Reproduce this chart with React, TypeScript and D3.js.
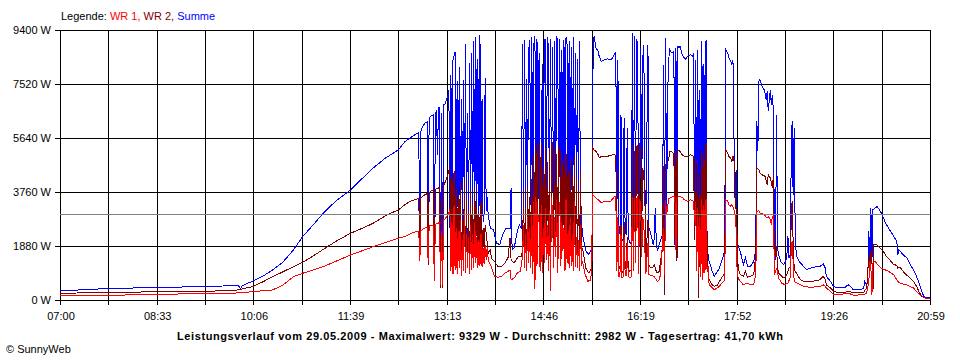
import React from 'react';
import * as d3 from 'd3';

type Sample = [number, number]; // [minutes after 07:00, watts]

const timeLabels = ['07:00', '08:33', '10:06', '11:39', '13:13', '14:46', '16:19', '17:52', '19:26', '20:59'];
const yTickValues = [0, 1880, 3760, 5640, 7520, 9400];
const dayMinutes = 839; // 07:00 -> 20:59
const gridColumns = 18;
const averageW = 2982;
const title = 'Leistungsverlauf vom 29.05.2009 - Maximalwert: 9329 W - Durchschnitt: 2982 W - Tagesertrag: 41,70 kWh';

const legendItems = [
  { label: 'WR 1, ', color: '#ff0000' },
  { label: 'WR 2, ', color: '#800000' },
  { label: 'Summe', color: '#0000ff' },
];

const summePoints: Sample[] = [
  [0, 325], [19, 350], [46, 400], [94, 435], [142, 470], [172, 505], [174, 385], [176, 505], [186, 660], [196, 835],
  [205, 1045], [215, 1320], [225, 1740], [234, 2205], [244, 2610], [254, 3030], [266, 3445], [280, 3830], [290, 4180],
  [302, 4595], [314, 4945], [326, 5220], [333, 5525], [340, 5700], [345, 5815], [346, 5830], [347, 1580], [348, 5880],
  [349, 5990], [352, 6160], [354, 6200], [355, 2055], [356, 6260], [357, 6395], [360, 6450], [361, 1460], [362, 6480],
  [363, 6600], [364, 5050], [365, 6685], [366, 6700], [367, 420], [368, 6500], [369, 420], [370, 6790], [371, 6790],
  [374, 7100], [375, 7300], [376, 2505], [377, 7845], [378, 2260], [379, 8360], [380, 8500], [381, 8640], [382, 2500],
  [383, 7620], [384, 2300], [385, 8100], [386, 2250], [387, 7000], [388, 2400], [389, 7660], [390, 2200], [391, 8900],
  [392, 2300], [393, 6500], [394, 2200], [395, 8250], [396, 2400], [397, 8600], [398, 2500], [399, 9000], [400, 2600],
  [401, 9160], [402, 3200], [403, 8400], [404, 2700], [405, 9225], [406, 2800], [407, 7000], [408, 2700], [409, 3000],
  [410, 7730], [411, 3100], [412, 3595], [413, 2925], [415, 2505], [418, 2440], [421, 1985], [424, 1925], [427, 2270],
  [430, 2505], [434, 2505], [435, 3900], [436, 1750], [438, 1810], [441, 2400], [443, 2620], [445, 2470],
  [446, 8900], [447, 3100], [448, 9050], [449, 2600], [450, 7700], [451, 3900], [452, 8700], [453, 9050], [454, 3300],
  [455, 9150], [456, 2900], [457, 8900], [458, 9200], [459, 2700], [460, 9100], [461, 3500], [462, 8600], [463, 2500],
  [464, 2300], [465, 8200], [466, 2500], [467, 9000], [468, 9100], [469, 3000], [470, 9150], [471, 8800], [472, 2800],
  [473, 9100], [474, 3200], [475, 8800], [476, 2200], [477, 9000], [478, 3600], [479, 9200], [480, 8900], [481, 2900],
  [482, 9100], [483, 3300], [484, 8700], [485, 2400], [486, 9050], [487, 3800], [488, 9150], [489, 8900], [490, 2700],
  [491, 9000], [492, 3100], [493, 8800], [494, 2300], [495, 9150], [496, 2800], [497, 8600], [498, 3500], [499, 8400],
  [500, 2600], [501, 9000], [502, 2500], [503, 2700], [504, 2270], [507, 1710], [510, 1580], [513, 1810], [514, 8000],
  [515, 9175], [517, 8770], [519, 8655], [520, 8480], [522, 8310], [525, 8365], [528, 8400], [531, 8365], [533, 8425],
  [535, 8600], [536, 8630],
  [537, 2505], [538, 8365], [539, 2400], [540, 2300], [541, 6450], [542, 2100], [543, 2055], [544, 6335], [545, 2400],
  [546, 2270], [547, 5990], [548, 2200], [549, 2055], [551, 1915], [552, 9295], [553, 2505], [554, 9190], [555, 2800],
  [556, 9050], [557, 9000], [558, 2100], [559, 1855], [560, 8770], [561, 3500], [562, 8425], [563, 8890], [564, 4000],
  [565, 2960], [567, 8890], [568, 2505], [570, 2270], [572, 1925], [573, 2100], [574, 3200], [575, 2090], [576, 1705],
  [579, 2055], [581, 2270], [582, 8190], [583, 2440], [584, 9120], [585, 2960], [586, 7150], [587, 8365], [588, 8715],
  [590, 8600], [592, 8660], [593, 1925], [594, 8770], [595, 1740], [596, 8830], [597, 8770], [598, 8830], [599, 8670],
  [600, 8540], [602, 8425], [603, 8365], [605, 8485], [608, 8540], [610, 8485], [611, 8600], [612, 2750], [613, 8365],
  [614, 2750], [615, 8700], [616, 2400], [617, 7300], [618, 2300], [619, 9000], [620, 2600], [621, 8200], [622, 2270],
  [623, 9050], [624, 2100], [625, 1577], [626, 1347], [629, 1000], [631, 825], [632, 880], [636, 1115], [639, 1460],
  [641, 1695], [642, 8715], [644, 8600], [645, 8425], [647, 8310], [648, 8190], [649, 8365], [650, 5640], [651, 3480],
  [652, 4525], [653, 1985], [656, 1695], [658, 1400], [659, 1230], [661, 1460], [663, 1175], [666, 1175], [669, 1345],
  [670, 1460], [671, 2045], [672, 6220], [673, 5185], [674, 7615], [675, 7670], [677, 7440], [679, 7320], [680, 7205],
  [681, 6975], [682, 7265], [683, 6570], [685, 7320], [686, 6800], [687, 7150], [688, 6580], [689, 1810], [690, 1395],
  [691, 6450], [692, 1810], [693, 1575], [695, 1345], [698, 1230], [700, 1360], [701, 1565], [702, 2215], [703, 1460],
  [704, 1565], [705, 4360], [706, 6220], [707, 3655], [708, 5990], [709, 2400], [710, 1575], [711, 1460], [714, 1290],
  [717, 1175], [720, 1055], [724, 1115], [730, 1165], [733, 1175], [736, 1255], [738, 1115], [739, 825], [743, 650],
  [746, 475], [749, 420], [757, 440], [760, 530], [762, 485], [765, 360], [772, 360], [775, 420], [776, 650], [778, 520],
  [779, 765], [780, 2390], [781, 1360], [782, 3200], [783, 1360], [784, 3145], [786, 3200], [788, 3260], [791, 3090],
  [793, 2970], [796, 2680], [799, 2505], [801, 2390], [805, 2160], [807, 2045], [808, 1575], [809, 1750], [813, 1575],
  [817, 1460], [820, 1230], [823, 1055], [826, 825], [829, 530], [831, 300], [833, 130], [834, 70], [839, 70],
];

const wr2Points: Sample[] = [
  [0, 235], [19, 245], [46, 255], [94, 290], [142, 310], [167, 320], [186, 465], [196, 640], [205, 810], [215, 980],
  [225, 1160], [234, 1310], [244, 1530], [254, 1765], [266, 2040], [280, 2320], [291, 2490], [302, 2670], [316, 2980],
  [326, 3130], [333, 3330], [339, 3455], [345, 3525], [346, 3540], [347, 1460], [348, 3560], [352, 3665], [354, 3700],
  [355, 1220], [356, 3730], [357, 3780], [360, 3830], [361, 1045], [362, 3850], [365, 3900], [366, 3900], [367, 420],
  [368, 3500], [369, 420], [370, 4000], [371, 4060], [374, 4350], [376, 4640],
  [377, 1460], [378, 4200], [379, 1390], [380, 4500], [381, 1500], [382, 3900], [383, 1400], [384, 3600], [385, 1550],
  [386, 4100], [387, 1350], [388, 2800], [389, 1500], [390, 4200], [391, 1400], [392, 3500], [393, 1550], [394, 3100],
  [395, 1450], [396, 3800], [397, 1600], [398, 3300], [399, 1650], [400, 3900], [401, 2000], [402, 3200], [403, 1700],
  [404, 3000], [405, 1800], [406, 3400], [407, 1700], [408, 2500], [409, 1800], [410, 2600], [411, 2330], [413, 1635],
  [415, 1740], [416, 1460], [419, 1345], [422, 1175], [426, 1175], [429, 1290], [432, 1460], [434, 2160], [435, 1400],
  [438, 1290], [442, 1520], [445, 1520],
  [446, 1700], [447, 3800], [448, 1500], [449, 3200], [450, 1400], [451, 3900], [452, 1800], [453, 3600], [454, 1500],
  [455, 4200], [456, 1300], [457, 5000], [458, 500], [459, 5300], [460, 1600], [461, 5500], [462, 5350], [463, 1500],
  [464, 5450], [465, 1400], [466, 4600], [467, 1800], [468, 5300], [469, 2000], [470, 4800], [471, 1500], [472, 5200],
  [473, 300], [474, 5400], [475, 5500], [476, 1600], [477, 5300], [478, 2100], [479, 5100], [480, 1400], [481, 5350],
  [482, 4900], [483, 1700], [484, 5200], [485, 2400], [486, 4700], [487, 1500], [488, 5100], [489, 1900], [490, 4500],
  [491, 1600], [492, 4900], [493, 1800], [494, 4300], [495, 1500], [496, 5000], [497, 1700], [498, 4200], [499, 1600],
  [500, 3800], [501, 1500], [502, 4500], [503, 1800], [504, 1810], [507, 1115], [510, 940], [513, 1115], [514, 5290],
  [515, 5230], [517, 5175], [519, 5060], [520, 4945], [522, 5000], [525, 5000], [528, 5000], [531, 5040], [535, 5060],
  [536, 5000],
  [537, 2270], [538, 2400], [539, 1200], [540, 1100], [541, 2600], [542, 1000], [543, 950], [544, 2700], [545, 1200],
  [546, 1050], [547, 2200], [548, 1100], [549, 1000], [551, 1050], [552, 5400], [553, 1500], [554, 5200], [555, 2000],
  [556, 5300], [557, 5400], [558, 1300], [559, 5465], [560, 5050], [561, 2500], [562, 4595], [563, 4300], [564, 3665],
  [565, 1360], [567, 2800], [568, 1200], [570, 1115], [572, 1150], [573, 1230], [575, 1000], [576, 940], [578, 1000],
  [579, 1345], [581, 1740], [582, 4655], [583, 185], [584, 4710], [586, 4830], [587, 4885], [588, 5175], [590, 5150],
  [592, 5080], [593, 2160], [594, 5175], [595, 1345], [596, 5230], [598, 5175], [600, 5060], [602, 5000], [605, 5000],
  [608, 5060], [611, 5000], [612, 2090], [613, 4945], [614, 1400], [615, 4800], [616, 70], [617, 4400], [618, 1000],
  [619, 5200], [620, 1100], [621, 5100], [622, 1300], [623, 5465], [624, 2200], [625, 880], [626, 705], [629, 530],
  [631, 475], [634, 520], [637, 705], [640, 880], [641, 900], [642, 5230], [644, 5120], [645, 5000], [647, 4920],
  [648, 4830], [649, 5000], [650, 4830], [651, 4015], [652, 3090], [653, 2160], [654, 1115], [656, 880], [659, 825],
  [661, 1000], [663, 790], [666, 825], [669, 880], [671, 1575], [672, 4595], [674, 4535], [675, 4420], [677, 4360],
  [680, 4305], [682, 4015], [683, 4360], [685, 4245], [687, 3900], [688, 4360], [689, 1115], [690, 1925], [691, 1810],
  [692, 1115], [693, 940], [696, 825], [698, 765], [701, 880], [703, 1115], [704, 1115], [705, 2505], [706, 3435],
  [707, 2045], [708, 1115], [709, 1000], [711, 880], [714, 705], [717, 650], [724, 650], [730, 670], [733, 705],
  [736, 835], [738, 705], [739, 530], [743, 420], [746, 300], [752, 245], [758, 280], [762, 300], [765, 245], [775, 270],
  [778, 420], [780, 1575], [781, 880], [782, 1695], [783, 1345], [784, 300], [785, 1925], [786, 1950], [788, 1905],
  [791, 1810], [794, 1695], [797, 1520], [800, 1400], [804, 1230], [807, 1210], [808, 1115], [810, 1140], [813, 1000],
  [816, 880], [820, 765], [823, 650], [826, 475], [829, 245], [831, 130], [834, 70], [839, 45],
];

const wr1Points: Sample[] = [
  [0, 140], [46, 165], [94, 190], [142, 235], [167, 235], [186, 290], [205, 350], [215, 520], [225, 810], [234, 930],
  [254, 1160], [280, 1565], [302, 1855], [326, 2150], [333, 2215], [339, 2330], [345, 2390], [346, 2400], [347, 1345],
  [348, 2420], [352, 2505], [354, 2530], [355, 1345], [356, 2560], [357, 2600], [360, 2610], [361, 650], [362, 2640],
  [365, 2680], [366, 2690], [367, 530], [368, 2400], [369, 530], [370, 2795], [371, 2800], [374, 2970], [376, 3150],
  [377, 1000], [378, 2700], [379, 900], [380, 3300], [381, 1050], [382, 2500], [383, 900], [384, 2400], [385, 1100],
  [386, 2800], [387, 850], [388, 2100], [389, 1000], [390, 3100], [391, 950], [392, 2300], [393, 1100], [394, 2200],
  [395, 900], [396, 2600], [397, 1050], [398, 2300], [399, 1100], [400, 2700], [401, 1300], [402, 2200], [403, 1100],
  [404, 2100], [405, 1200], [406, 2300], [407, 1150], [408, 1800], [409, 1250], [410, 1900], [411, 1400], [412, 1855],
  [413, 1390], [416, 1160], [419, 825], [422, 790], [426, 825], [429, 940], [432, 1000], [434, 1045], [435, 705],
  [438, 765], [441, 940], [444, 1000],
  [446, 1500], [447, 2600], [448, 1100], [449, 2300], [450, 1000], [451, 2900], [452, 1300], [453, 2500], [454, 1100],
  [455, 3000], [456, 900], [457, 3400], [458, 400], [459, 3600], [460, 1200], [461, 3000], [462, 2700], [463, 1000],
  [464, 3300], [465, 950], [466, 2500], [467, 1300], [468, 3200], [469, 1400], [470, 2600], [471, 1000], [472, 3100],
  [473, 300], [474, 3600], [475, 3000], [476, 1100], [477, 2900], [478, 1500], [479, 3500], [480, 950], [481, 2800],
  [482, 3400], [483, 1200], [484, 2700], [485, 1700], [486, 2500], [487, 1000], [488, 3500], [489, 1300], [490, 2400],
  [491, 1100], [492, 2900], [493, 1200], [494, 2300], [495, 1000], [496, 3450], [497, 1150], [498, 2200], [499, 1100],
  [500, 2100], [501, 1000], [502, 2600], [503, 1200], [504, 1345], [506, 940], [509, 650], [512, 705], [514, 3665],
  [515, 3610], [519, 3490], [522, 3375], [525, 3435], [528, 3445], [531, 3435], [535, 3610], [536, 3610],
  [537, 1000], [538, 2900], [539, 800], [540, 900], [541, 2300], [542, 760], [543, 800], [544, 2200], [545, 900],
  [546, 820], [547, 2000], [548, 850], [549, 780], [551, 800], [552, 3600], [553, 1000], [554, 3550], [555, 1300],
  [556, 3500], [557, 3620], [558, 900], [559, 3500], [560, 3300], [561, 1500], [562, 2900], [563, 2600], [564, 1800],
  [565, 900], [567, 2000], [568, 880], [570, 850], [573, 825], [576, 650], [578, 705], [579, 880], [582, 2505],
  [583, 870], [584, 3490], [585, 2970], [587, 3525], [588, 3550], [592, 3610], [593, 3550], [594, 1750], [595, 3550],
  [597, 3610], [600, 3575], [602, 3490], [605, 3435], [608, 3490], [611, 3435], [612, 2750], [613, 3400], [614, 1000],
  [615, 3200], [616, 900], [617, 2900], [618, 800], [619, 3500], [620, 700], [621, 3300], [622, 950], [623, 3500],
  [624, 1000], [625, 1175], [626, 530], [629, 420], [631, 360], [634, 420], [637, 530], [640, 650], [641, 680],
  [642, 3490], [644, 3435], [645, 3320], [647, 3260], [648, 3320], [650, 3145], [651, 2960], [652, 2505], [653, 1000],
  [654, 765], [656, 650], [659, 530], [662, 590], [666, 530], [669, 555], [671, 880], [672, 3090], [674, 3110],
  [675, 3030], [679, 2970], [682, 2855], [683, 2915], [685, 2795], [686, 2620], [687, 2915], [688, 2915], [689, 880],
  [691, 1115], [692, 940], [693, 765], [696, 590], [699, 530], [702, 590], [704, 765], [705, 1575], [706, 2045],
  [707, 1345], [708, 650], [711, 590], [714, 530], [717, 475], [724, 440], [733, 475], [736, 530], [738, 475],
  [739, 420], [743, 300], [746, 185], [752, 185], [760, 245], [765, 165], [775, 185], [778, 245], [780, 650],
  [781, 1345], [782, 1115], [783, 185], [784, 1290], [786, 1345], [789, 1210], [792, 1115], [796, 1045], [799, 1000],
  [804, 880], [808, 650], [810, 590], [816, 530], [823, 420], [826, 300], [829, 185], [833, 95], [836, 45], [839, 45],
];

const App: React.FC = () => {
  const width = 960;
  const height = 360;
  const margin = { top: 30, right: 30, bottom: 60, left: 60 };
  const font = "'Liberation Sans', Arial, sans-serif";

  const xScale = d3.scaleLinear()
    .domain([0, dayMinutes])
    .range([margin.left, width - margin.right]);

  const yScale = d3.scaleLinear()
    .domain([0, 9400])
    .range([height - margin.bottom, margin.top]);

  const line = d3.line<Sample>()
    .x(d => xScale(d[0]))
    .y(d => yScale(d[1]));

  const snap = (v: number) => Math.round(v) + 0.5;
  const gridTimes = d3.range(gridColumns + 1).map(i => i * dayMinutes / gridColumns);
  const x0 = margin.left;
  const x1 = width - margin.right;
  const yTop = margin.top;
  const yBottom = height - margin.bottom;

  // Summe first, the two inverters on top of it
  const series = [
    { data: summePoints, color: '#0000ff' },
    { data: wr2Points, color: '#800000' },
    { data: wr1Points, color: '#ff0000' },
  ];

  return (
    <svg width={width} height={height} viewBox={`0 0 ${width} ${height}`}
      style={{ position: 'absolute', left: 0, top: 0, background: '#fff', display: 'block' }}
      fontFamily={font} fontSize={11}>
      <text x={61} y={20} style={{ whiteSpace: 'pre' }}>
        <tspan fill="#000">Legende: </tspan>
        {legendItems.map(item => (
          <tspan key={item.label} fill={item.color}>{item.label}</tspan>
        ))}
      </text>

      {/* grid */}
      <g stroke="#000" strokeWidth={1} shapeRendering="crispEdges">
        {gridTimes.map((t, i) => (
          <line key={'v' + i} x1={snap(xScale(t))} x2={snap(xScale(t))} y1={yTop} y2={yBottom + 5} />
        ))}
        {yTickValues.map(v => (
          <line key={'h' + v} x1={x0 - 5} x2={x1} y1={snap(yScale(v))} y2={snap(yScale(v))} />
        ))}
      </g>

      {/* y labels */}
      {yTickValues.map(v => (
        <text key={'yl' + v} x={51} y={yScale(v) + 4} textAnchor="end" fill="#000">{`${v} W`}</text>
      ))}

      {/* x labels */}
      {timeLabels.map((lab, i) => (
        <text key={'xl' + lab} x={xScale(gridTimes[i * 2]) + 1} y={320} textAnchor="middle" fill="#000">{lab}</text>
      ))}

      {/* data */}
      <g fill="none" strokeWidth={1} shapeRendering="crispEdges">
        {series.map(s => (
          <path key={s.color} d={line(s.data) ?? ''} stroke={s.color} />
        ))}
      </g>

      {/* average line */}
      <line x1={x0} x2={x1} y1={snap(yScale(averageW))} y2={snap(yScale(averageW))}
        stroke="#808080" strokeWidth={1} shapeRendering="crispEdges" />

      <text x={177} y={340} fontWeight="bold" textLength={606} lengthAdjust="spacing" fill="#000">{title}</text>
      <text x={6} y={353} fill="#000">© SunnyWeb</text>
    </svg>
  );
};

export default App;
